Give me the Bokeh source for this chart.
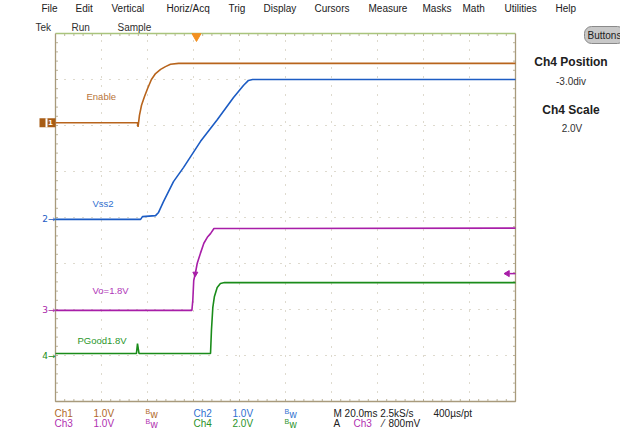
import math
from bokeh.plotting import figure
from bokeh.models import Range1d, Label
from bokeh.embed import file_html
from bokeh.resources import INLINE

time_per_div_ms = 20.0
n_hdiv = 10
n_vdiv = 8

ch_labels = ["Enable", "Vss2", "Vo=1.8V", "PGood1.8V"]
ch_scale_v = [1.0, 1.0, 1.0, 2.0]             # V/div
ch_position_div = [2.06, -0.04, -2.02, -3.0]  # ground marker position, divisions

# Ch1 : Enable (time ms, volts)
enable_t = [0, 35.6, 35.9, 36.5, 37.4, 38.7, 40.0, 41.7, 43.5, 45.7, 47.8, 50.0, 53.5, 200]
enable_v = [0.0, 0.0, -0.09, 0.16, 0.38, 0.57, 0.74, 0.94, 1.07, 1.16, 1.22, 1.27, 1.29, 1.29]
# Ch2 : Vss2
vss2_t = [0, 37.0, 37.8, 43.5, 44.8, 47.0, 51.3, 55.7, 63.0, 70.4, 77.4, 81.7, 83.9, 85.7, 200]
vss2_v = [0.0, 0.0, 0.06, 0.08, 0.15, 0.39, 0.82, 1.13, 1.69, 2.17, 2.65, 2.91, 3.02, 3.04, 3.04]
# Ch3 : Vo = 1.8 V
vo_t = [0, 59.3, 59.7, 60.1, 60.9, 61.6, 63.0, 64.5, 66.0, 67.4, 68.9, 200]
vo_v = [0.0, 0.0, 0.22, 0.65, 0.83, 1.02, 1.24, 1.46, 1.59, 1.67, 1.78, 1.79]
# Ch4 : PGood 1.8 V
pg_t = [0, 35.2, 35.65, 36.3, 67.4, 67.8, 68.4, 69.1, 70.3, 71.7, 73.5, 200]
pg_v = [0.09, 0.09, 0.52, 0.09, 0.09, 1.09, 2.09, 2.57, 2.96, 3.13, 3.17, 3.17]

trigger_time_ms = 61.3
trigger_level_v = 0.8   # Ch3, 800 mV

menu_items = ["File", "Edit", "Vertical", "Horiz/Acq", "Trig", "Display",
              "Cursors", "Measure", "Masks", "Math", "Utilities", "Help"]
status_items = ["Tek", "Run", "Sample"]
readout_names = ["Ch1", "Ch2", "Ch3", "Ch4"]

# ---------------- layout / styles ----------------
W, H = 620, 436
GL, GR, GT, GB = 55, 515, 33, 401          # graticule box, page pixels
PX_PER_MS = (GR - GL) / (time_per_div_ms * n_hdiv)
PX_PER_DIV = (GB - GT) / n_vdiv
FONT = "Liberation Sans"

trace_colors = ["#b8641c", "#1c5cc4", "#a81ea8", "#1a8c1a"]
text_colors = ["#b8743a", "#2f6fd0", "#b035b8", "#2a962a"]
readout_colors = ["#b06828", "#3070d0", "#b030b0", "#2a922a"]
dot_color = "#bdb49c"
border_top = "#a9c47c"
border_other = "#a89a7c"


def X(px):
    return (px - GL) / PX_PER_MS


def Y(py):
    return ((GT + GB) / 2 - py) / PX_PER_DIV


p = figure(width=W, height=H, x_range=Range1d(X(0), X(W)), y_range=Range1d(Y(H), Y(0)),
           output_backend="svg", toolbar_location=None,
           x_axis_type=None, y_axis_type=None, min_border=0)
p.outline_line_color = None
p.background_fill_color = "white"
p.border_fill_color = "white"
p.grid.visible = False

# channel ranges (volts) mapped onto the screen divisions
for i in range(4):
    s, pos = ch_scale_v[i], ch_position_div[i]
    p.extra_y_ranges[f"ch{i+1}"] = Range1d((Y(H) - pos) * s, (Y(0) - pos) * s)

# graticule
t_end = time_per_div_ms * n_hdiv
half = n_vdiv / 2
major_t = [time_per_div_ms * k for k in range(1, n_hdiv)]
major_d = [k - half for k in range(1, n_vdiv)]
minor_t = [time_per_div_ms * k / 5 for k in range(1, n_hdiv * 5)]
minor_d = [k / 5 - half for k in range(1, n_vdiv * 5)]

p.multi_line([[t, t] for t in major_t], [[-half, half] for _ in major_t],
             line_color=dot_color, line_width=1, line_dash="1 8")
p.multi_line([[0, t_end] for _ in major_d], [[d, d] for d in major_d],
             line_color=dot_color, line_width=1, line_dash="1 8")

tk = 2.5 / PX_PER_DIV
tkx = 2.5 / PX_PER_MS
p.multi_line([[t, t] for t in minor_t] * 2,
             [[half, half - tk] for _ in minor_t] + [[-half, -half + tk] for _ in minor_t],
             line_color=dot_color, line_width=1)
p.multi_line([[0, tkx] for _ in minor_d] + [[t_end, t_end - tkx] for _ in minor_d],
             [[d, d] for d in minor_d] * 2, line_color=dot_color, line_width=1)

p.line([0, t_end], [half, half], line_color=border_top, line_width=1.3)
p.line([0, 0, t_end, t_end], [half, -half, -half, half], line_color=border_other, line_width=1.3)

# traces
series_t = [enable_t, vss2_t, vo_t, pg_t]
series_v = [enable_v, vss2_v, vo_v, pg_v]
for i in range(4):
    p.line(series_t[i], series_v[i], line_color=trace_colors[i], line_width=1.6,
           y_range_name=f"ch{i+1}")

# trigger markers
p.scatter([trigger_time_ms], [half - 0.06], marker="inverted_triangle", size=9,
          fill_color="#f39020", line_color="#f39020")
p.scatter([trigger_time_ms - 0.5], [trigger_level_v], marker="inverted_triangle", size=5,
          fill_color=trace_colors[2], line_color=trace_colors[2], y_range_name="ch3")
p.scatter([X(507)], [trigger_level_v], marker="triangle", angle=math.pi / 2, size=6,
          fill_color=trace_colors[2], line_color=trace_colors[2], y_range_name="ch3")
p.segment([X(509)], [trigger_level_v], [t_end], [trigger_level_v], line_color=trace_colors[2],
          line_width=1.5, y_range_name="ch3")


def lab(text, px, py, color="#222222", size=10, align="left", bold=False, **kw):
    p.add_layout(Label(x=X(px), y=Y(py), text=text, text_color=color,
                       text_font=FONT, text_font_size=f"{size}px", text_align=align,
                       text_baseline="middle", text_font_style="bold" if bold else "normal",
                       **kw))


# menu bar
menu_x = [41, 75, 111, 166, 228, 263, 314, 368, 422, 462, 504, 555]
for t, x in zip(menu_items, menu_x):
    lab(t, x, 8, "#202020")
for t, x in zip(status_items, [35, 71, 117]):
    lab(t, x, 26.5, "#303030")

# Buttons pill
p.add_layout(Label(x=X(584), y=Y(34.5), text="Buttons", text_color="#202020", text_font=FONT,
                   text_font_size="10px", text_baseline="middle", text_align="left",
                   background_fill_color="#c8c8c8", border_line_color="#8a8a8a",
                   padding=3, border_radius=7))

# right panel
lab("Ch4 Position", 570.5, 61, "#202020", 12, "center", True)
lab("-3.0div", 570.5, 81, "#303030", 10, "center")
lab("Ch4 Scale", 570.5, 109, "#202020", 12, "center", True)
lab("2.0V", 571.5, 128, "#303030", 10, "center")

# trace labels
lab(ch_labels[0], 86, 96, text_colors[0], 9.5)
lab(ch_labels[1], 92, 203, text_colors[1], 9.5)
lab(ch_labels[2], 92, 290, text_colors[2], 9.5)
lab(ch_labels[3], 77, 340, text_colors[3], 9.5)

# ground markers
p.rect([X(47)], [0], width=16, height=9, width_units="screen", height_units="screen",
       fill_color="#a85c14", line_color=None, y_range_name="ch1")
p.rect([X(46)], [0], width=2, height=9, width_units="screen", height_units="screen",
       fill_color="white", line_color=None, y_range_name="ch1")
p.add_layout(Label(x=X(50), y=0, y_range_name="ch1", text="1", text_color="white",
                   text_font=FONT, text_font_size="8px", text_font_style="bold",
                   text_align="center", text_baseline="middle"))
for i in range(1, 4):
    p.add_layout(Label(x=0, y=0, y_range_name=f"ch{i+1}", text=f"{i+1}\u2192",
                       text_color=trace_colors[i], text_font="DejaVu Sans",
                       text_font_size="9px", text_align="right", text_baseline="middle"))

# bottom readout
row1, row2 = 413, 423
scale_txt = [f"{s:.1f}V" for s in ch_scale_v]
for i, (cx, ry) in enumerate([(54, row1), (193, row1), (54, row2), (193, row2)]):
    c = readout_colors[i]
    lab(readout_names[i], cx, ry, c)
    lab(scale_txt[i], cx + 39, ry, c)
    lab("B", cx + 91, ry - 2.5, c, 7)
    lab("w", cx + 96, ry + 0.5, c, 10)
lab("M 20.0ms 2.5kS/s", 333, row1, "#202020")
lab("400\u00b5s/pt", 433, row1, "#202020")
lab("A", 333, row2, "#202020")
lab("Ch3", 353, row2, "#b030b0")
lab("\u2044", 382, row2, "#202020")
lab("800mV", 388, row2, "#202020")

open("out.html", "w").write(file_html(p, INLINE))
